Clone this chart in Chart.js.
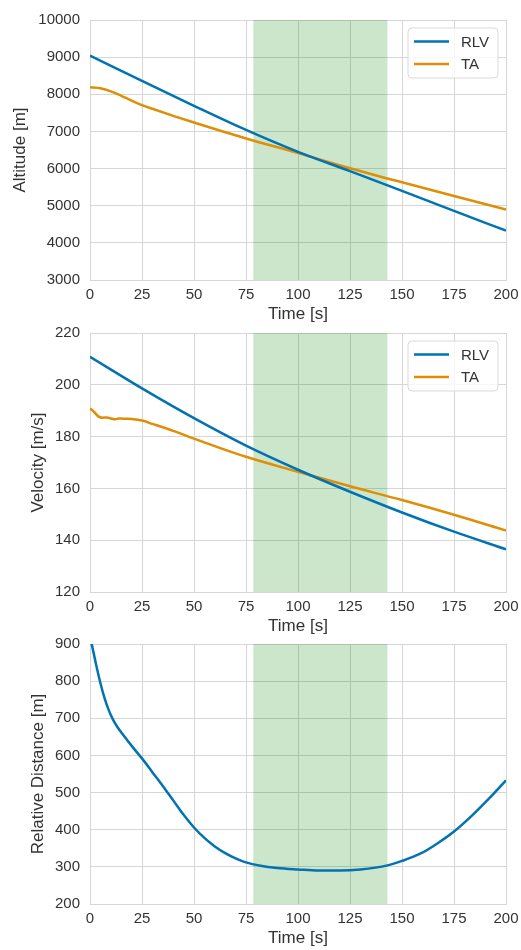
<!DOCTYPE html>
<html>
<head>
<meta charset="utf-8">
<script src="https://cdn.jsdelivr.net/npm/chart.js@4.4.1/dist/chart.umd.min.js"></script>
<style>
  body { margin: 0; background: #fff; }
  .panel { position: absolute; left: 0; }
</style>
</head>
<body>
<div class="panel" style="top:0px"><canvas id="altChart" width="521" height="325"></canvas></div>
<div class="panel" style="top:313px"><canvas id="velChart" width="521" height="324"></canvas></div>
<div class="panel" style="top:624px"><canvas id="distChart" width="521" height="325"></canvas></div>
<script>
// time grids (s)
const timeRLV = [0, 25, 50, 75, 100, 125, 150, 175, 200];
const timeAltTA = [0, 5, 10, 15, 20, 25, 30, 40, 50, 75, 100, 125, 150, 175, 200];
const timeVelTA = [0, 2, 4, 6, 8, 10, 12, 14, 16, 18, 20, 25, 30, 40, 50, 60, 75, 100, 125, 150, 175, 200];
const timeDist = [0, 1, 3, 5, 7, 9, 11, 13, 16, 21, 25, 30, 35, 40, 45, 50, 55, 60, 65, 70, 75, 82, 90, 100, 110, 120, 130, 143, 150, 159, 167, 175, 184, 192, 200];

// altitude [m]
const altRLV = [9040, 8360, 7690, 7040, 6450, 5930, 5400, 4860, 4330];
const altTA = [8190, 8160, 8080, 7960, 7830, 7710, 7610, 7420, 7240, 6810, 6420, 6010, 5630, 5260, 4900];

// velocity [m/s]
const velRLV = [210.8, 198.6, 187.1, 176.5, 167.2, 158.7, 150.7, 143.3, 136.5];
const velTA = [190.9, 189.5, 187.8, 187.3, 187.4, 187.0, 186.7, 187.0, 186.9, 186.9, 186.8, 186.2, 184.9, 182.2, 179.2, 176.3, 172.2, 166.4, 160.8, 155.5, 149.8, 143.7];

// relative distance [m]
const relDist = [918, 895, 843, 795, 754, 722, 697, 678, 655, 619, 592, 555, 518, 479, 440, 406, 378, 355, 337, 323, 312, 303, 297, 293, 290, 290, 293, 304, 316, 336, 363, 395, 440, 485, 533];

const seriesNames = ["RLV", "TA"];
const timeTicks = { min: 0, max: 200, step: 25 };
const bandStart = 78.5;
const bandEnd = 143;

const BLUE = "#0173B2";
const ORANGE = "#DE8F05";
const gridColor = "#d6d6d6";
const textColor = "#333333";
const fontFamily = "'Liberation Sans', Arial, sans-serif";

function pts(xs, ys) {
    return xs.map((x, i) => ({ x: x, y: ys[i] }));
}

// shaded time window
const bandPlugin = {
    id: "band",
    beforeDatasetsDraw(chart) {
        const { ctx, chartArea, scales } = chart;
        const x0 = scales.x.getPixelForValue(bandStart);
        const x1 = scales.x.getPixelForValue(bandEnd);
        ctx.save();
        ctx.fillStyle = "rgba(0, 128, 0, 0.2)";
        ctx.fillRect(x0, chartArea.top, x1 - x0, chartArea.bottom - chartArea.top);
        ctx.restore();
    }
};

// matplotlib-like legend box in the upper right corner
const boxLegend = {
    id: "boxLegend",
    afterDatasetsDraw(chart) {
        const { ctx, chartArea } = chart;
        const w = 90, h = 50, r = 4;
        const left = chartArea.right - 98;
        const top = chartArea.top + 8;
        ctx.save();
        ctx.beginPath();
        ctx.moveTo(left + r, top);
        ctx.arcTo(left + w, top, left + w, top + h, r);
        ctx.arcTo(left + w, top + h, left, top + h, r);
        ctx.arcTo(left, top + h, left, top, r);
        ctx.arcTo(left, top, left + w, top, r);
        ctx.closePath();
        ctx.fillStyle = "rgba(255,255,255,0.8)";
        ctx.fill();
        ctx.strokeStyle = "#d9d9d9";
        ctx.lineWidth = 1;
        ctx.stroke();
        ctx.font = "15px " + fontFamily;
        ctx.textBaseline = "middle";
        chart.data.datasets.forEach((ds, i) => {
            const y = top + 13.5 + i * 22.6;
            ctx.strokeStyle = ds.borderColor;
            ctx.lineWidth = 2.5;
            ctx.beginPath();
            ctx.moveTo(left + 6, y);
            ctx.lineTo(left + 41, y);
            ctx.stroke();
            ctx.fillStyle = textColor;
            ctx.fillText(ds.label, left + 53, y + 1);
        });
        ctx.restore();
    }
};

function makePanel(id, yLabel, titlePad, yRange, datasets, withLegend) {
    const plugins = [bandPlugin];
    if (withLegend) plugins.push(boxLegend);
    return new Chart(document.getElementById(id), {
        type: "line",
        data: { datasets: datasets },
        options: {
            responsive: false,
            animation: false,
            layout: { padding: { top: 20, right: 15, left: 0, bottom: 0 } },
            elements: { point: { radius: 0 }, line: { borderWidth: 2.5, cubicInterpolationMode: "monotone" } },
            plugins: { legend: { display: false }, tooltip: { enabled: false } },
            scales: {
                x: {
                    type: "linear",
                    min: timeTicks.min,
                    max: timeTicks.max,
                    ticks: { stepSize: timeTicks.step, padding: 6, color: textColor, font: { family: fontFamily, size: 15 } },
                    grid: { color: gridColor, drawTicks: false },
                    border: { color: gridColor },
                    title: { display: true, text: "Time [s]", color: textColor, padding: { top: 0, bottom: 0 }, font: { family: fontFamily, size: 17 } },
                    afterFit(s) { s.height = 45; s.paddingLeft = 0; s.paddingRight = 0; }
                },
                y: {
                    min: yRange[0],
                    max: yRange[1],
                    ticks: { stepSize: yRange[2], padding: 10, color: textColor, font: { family: fontFamily, size: 15 }, callback: v => String(v) },
                    grid: { color: gridColor, drawTicks: false },
                    border: { color: gridColor },
                    title: { display: true, text: yLabel, color: textColor, padding: { top: titlePad, bottom: 0 }, font: { family: fontFamily, size: 17 } },
                    afterFit(s) { s.width = 90; s.paddingTop = 0; s.paddingBottom = 0; }
                }
            }
        },
        plugins: plugins
    });
}

makePanel("altChart", "Altitude [m]", 10, [3000, 10000, 1000], [
    { label: seriesNames[0], data: pts(timeRLV, altRLV), borderColor: BLUE },
    { label: seriesNames[1], data: pts(timeAltTA, altTA), borderColor: ORANGE }
], true);

makePanel("velChart", "Velocity [m/s]", 28, [120, 220, 20], [
    { label: seriesNames[0], data: pts(timeRLV, velRLV), borderColor: BLUE },
    { label: seriesNames[1], data: pts(timeVelTA, velTA), borderColor: ORANGE }
], true);

makePanel("distChart", "Relative Distance [m]", 28, [200, 900, 100], [
    { label: "Relative Distance", data: pts(timeDist, relDist), borderColor: BLUE }
], false);
</script>
</body>
</html>
